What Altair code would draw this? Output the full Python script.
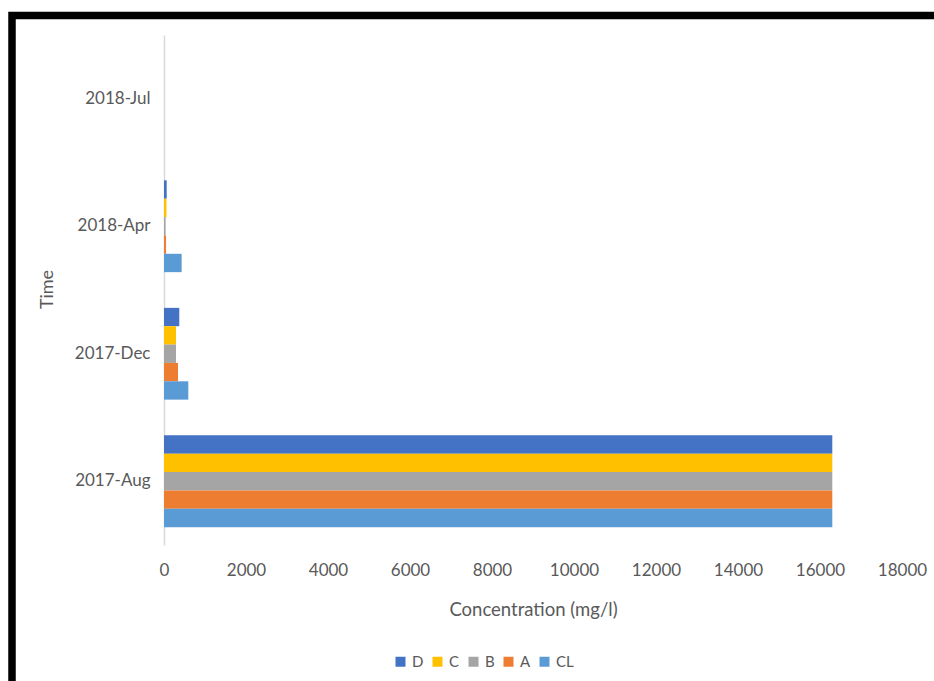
import altair as alt
import pandas as pd

times = ["2017-Aug", "2017-Dec", "2018-Apr", "2018-Jul"]
series = ["D", "C", "B", "A", "CL"]
colors = ["#4472C4", "#FFC000", "#A5A5A5", "#ED7D31", "#5B9BD5"]

D_vals = [16300, 373, 66, 0]
C_vals = [16300, 293, 60, 0]
B_vals = [16300, 293, 40, 0]
A_vals = [16300, 341, 50, 0]
CL_vals = [16300, 593, 430, 0]

x_ticks = [0, 2000, 4000, 6000, 8000, 10000, 12000, 14000, 16000, 18000]

vals = {"D": D_vals, "C": C_vals, "B": B_vals, "A": A_vals, "CL": CL_vals}
rows = []
for s in series:
    for t, v in zip(times, vals[s]):
        rows.append({"Time": t, "Series": s, "Value": v})
df = pd.DataFrame(rows)

y_order = list(reversed(times))
FONT = "Lato"
GRAY = "#595959"

bars = alt.Chart(df).mark_bar().encode(
    x=alt.X("Value:Q",
            scale=alt.Scale(domain=[0, 18000], nice=False, zero=True),
            axis=alt.Axis(values=x_ticks, title="Concentration (mg/l)", grid=False,
                          domain=False, ticks=False, labelPadding=17,
                          labelFlush=False, labelOverlap=False,
                          labelFont=FONT, labelFontSize=17, labelColor=GRAY,
                          titleFont=FONT, titleFontSize=18.5, titleColor=GRAY,
                          titleFontWeight="normal", titleX=369, titleY=64,
                          titleBaseline="middle", format="d")),
    y=alt.Y("Time:N", sort=y_order,
            scale=alt.Scale(domain=y_order, paddingInner=0.28, paddingOuter=0.14),
            axis=alt.Axis(title="Time", ticks=False, domainColor="#D9D9D9",
                          domainWidth=1.5, labelPadding=14,
                          labelFont=FONT, labelFontSize=17, labelColor=GRAY,
                          titleFont=FONT, titleFontSize=18, titleColor=GRAY,
                          titleFontWeight="normal", titleX=-117, titleY=254,
                          titleAngle=270, titleAlign="center",
                          titleBaseline="middle")),
    yOffset=alt.YOffset("Series:N", sort=series,
                        scale=alt.Scale(domain=series, paddingInner=0, paddingOuter=0)),
    color=alt.Color("Series:N", sort=series,
                    scale=alt.Scale(domain=series, range=colors),
                    legend=alt.Legend(title=None, orient="none", direction="horizontal",
                                      legendX=229, legendY=619,
                                      symbolType="square", symbolSize=100,
                                      symbolStrokeWidth=0, labelFont=FONT,
                                      labelFontSize=15, labelColor=GRAY,
                                      labelOffset=4, columnPadding=6)),
)

border_df = pd.DataFrame({"k": [0]})
border = alt.Chart(border_df).mark_rect(
    fill=None, stroke="black", strokeWidth=7.5, clip=False
).encode(
    x=alt.value(-152), x2=alt.value(800),
    y=alt.value(-19.5), y2=alt.value(700),
)

chart = alt.layer(bars, border).properties(
    width=738, height=510,
    autosize=alt.AutoSizeParams(type="none"),
    padding={"left": 164, "top": 35, "right": 32, "bottom": 136},
    background="white",
).configure_view(stroke=None)

chart.save("out.html", embed_options={"renderer": "svg", "actions": False})
